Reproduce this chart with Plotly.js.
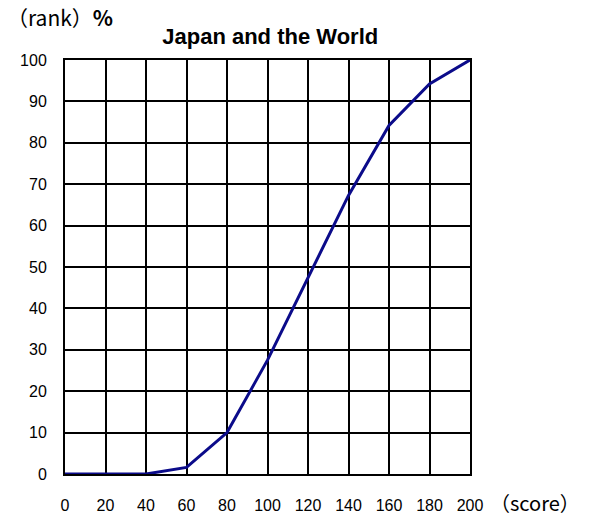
<!DOCTYPE html>
<html>
<head>
<meta charset="utf-8">
<script src="https://cdn.plot.ly/plotly-3.0.1.min.js"></script>
<style>html,body{margin:0;padding:0;background:#fff;}#chart{width:590px;height:522px;}</style>
</head>
<body>
<div id="chart"></div>
<script>
const scores = [0, 20, 40, 60, 80, 100, 120, 140, 160, 180, 200];
const rankPct = [0, 0, 0, 1.6, 10, 27.5, 47.5, 67.3, 84.2, 94.2, 100];
const xTicks = [0, 20, 40, 60, 80, 100, 120, 140, 160, 180, 200];
const yTicks = [0, 10, 20, 30, 40, 50, 60, 70, 80, 90, 100];
const titleText = "Japan and the World";
const yLabel = "（rank）<b>%</b>";
const xLabel = "（score）";

const font = "Liberation Sans, Arial, sans-serif";

Plotly.newPlot("chart", [{
  x: scores, y: rankPct, type: "scatter", mode: "lines",
  line: {color: "#0b0b8a", width: 3}, hoverinfo: "skip"
}], {
  width: 590, height: 522,
  margin: {l: 64.5, r: 120, t: 59.5, b: 48},
  paper_bgcolor: "#fff", plot_bgcolor: "#fff",
  showlegend: false,
  title: {text: titleText, x: 0.458, xanchor: "center", y: 0.93, yanchor: "middle",
          font: {family: font, size: 22, color: "#000", weight: "bold"}},
  xaxis: {range: [0, 200], tickvals: xTicks, ticktext: xTicks.map(String),
          showgrid: true, gridcolor: "#000", gridwidth: 2,
          showline: true, linecolor: "#000", linewidth: 2, mirror: true,
          zeroline: false, ticks: "", ticklabelstandoff: 16,
          tickfont: {family: font, size: 16, color: "#000"}, fixedrange: true},
  yaxis: {range: [0, 100], tickvals: yTicks, ticktext: yTicks.map(String),
          showgrid: true, gridcolor: "#000", gridwidth: 2,
          showline: true, linecolor: "#000", linewidth: 2, mirror: true,
          zeroline: false, ticks: "", ticklabelstandoff: 13,
          tickfont: {family: font, size: 16, color: "#000"}, fixedrange: true},
  annotations: [
    {text: yLabel, xref: "paper", yref: "paper", x: -0.148, y: 1.104, xanchor: "left", yanchor: "middle",
     showarrow: false, font: {family: "Noto Sans CJK JP, sans-serif", size: 21, color: "#000"}},
    {text: xLabel, xref: "paper", yref: "paper", x: 1.045, y: -0.068, xanchor: "left", yanchor: "middle",
     showarrow: false, font: {family: "Noto Sans CJK JP, sans-serif", size: 20, color: "#000"}}
  ]
}, {staticPlot: true});
</script>
</body>
</html>
